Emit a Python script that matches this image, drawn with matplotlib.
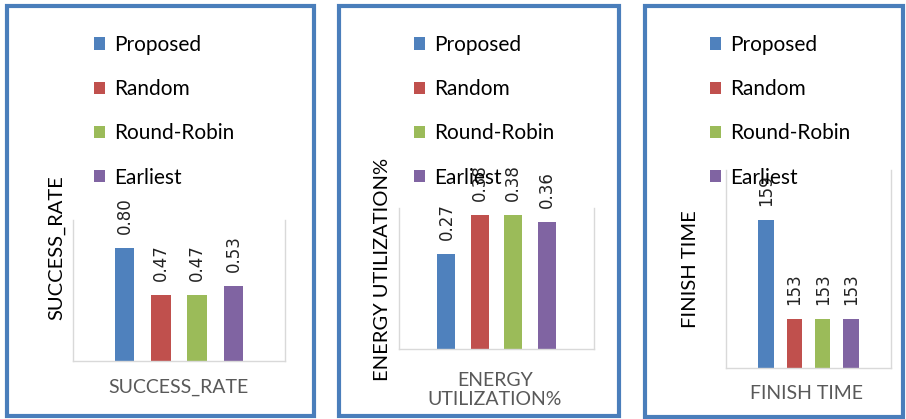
import matplotlib

matplotlib.use("Agg")
import matplotlib.pyplot as plt
from matplotlib.patches import Rectangle
import numpy as np

series = ["Proposed", "Random", "Round-Robin", "Earliest"]
colors = ["#4f81bd", "#c0504d", "#9bbb59", "#8064a2"]

success_rate = [0.80, 0.47, 0.47, 0.53]
energy_util = [0.27, 0.38, 0.38, 0.36]
finish_time = [159, 153, 153, 153]

W, H = 906, 419
plt.rcParams["font.family"] = ["Lato", "DejaVu Sans"]

fig = plt.figure(figsize=(W / 100, H / 100), dpi=100)


def px_rect(l, t, r, b):
    return [l / W, 1 - b / H, (r - l) / W, (b - t) / H]


def fig_pt(x, y):
    return (x / W, 1 - y / H)


# panel frames (left, top, right, bottom) in pixels
frames = [(7, 6, 314, 416), (339, 6, 619, 416), (645, 6, 903, 417)]
for l, t, r, b in frames:
    fig.add_artist(Rectangle((l / W, 1 - b / H), (r - l) / W, (b - t) / H,
                             transform=fig.transFigure, fill=False,
                             ec="#4a7ebb", lw=3))

panels = [
    dict(vals=success_rate, fmt="{:.2f}", rect=(73, 220, 285, 361), ylim=(0, 1.0),
         ylabel="SUCCESS_RATE", ylab_pos=(57, 248),
         xlabel="SUCCESS_RATE", xlab_pos=(178, 387), leg_x=94),
    dict(vals=energy_util, fmt="{:.2f}", rect=(399, 208, 594, 349), ylim=(0, 0.4),
         ylabel="ENERGY UTILIZATION%", ylab_pos=(382, 269),
         xlabel="ENERGY\nUTILIZATION%", xlab_pos=(495, 390), leg_x=414),
    dict(vals=finish_time, fmt="{:.0f}", rect=(726, 170, 891, 368), ylim=(150, 162),
         ylabel="FINISH TIME", ylab_pos=(690, 269),
         xlabel="FINISH TIME", xlab_pos=(807, 393), leg_x=710),
]

x = np.arange(len(series))
for p in panels:
    ax = fig.add_axes(px_rect(*p["rect"]))
    bars = ax.bar(x, p["vals"], width=0.54, color=colors, bottom=0,
                  label=series, zorder=2)
    ax.set_xlim(-1.42, 4.42)
    ax.set_ylim(*p["ylim"])
    ax.set_xticks([])
    ax.set_yticks([])
    for side in ["left", "bottom", "right"]:
        ax.spines[side].set_color("#d9d9d9")
        ax.spines[side].set_linewidth(1)
    ax.spines["top"].set_visible(False)

    for xi, v in zip(x, p["vals"]):
        ax.annotate(p["fmt"].format(v), (xi, v), xytext=(0, 10),
                    textcoords="offset points", rotation=90,
                    ha="center", va="bottom", fontsize=12,
                    family="DejaVu Sans", color="#222222")

    ax.set_ylabel(p["ylabel"], fontsize=14.5, color="black")
    ax.yaxis.set_label_coords(*fig_pt(*p["ylab_pos"]), transform=fig.transFigure)
    ax.set_xlabel(p["xlabel"], fontsize=14, color="#595959", linespacing=1.15)
    ax.xaxis.set_label_coords(*fig_pt(*p["xlab_pos"]), transform=fig.transFigure)
    ax.xaxis.label.set_va("center")
    ax.yaxis.label.set_va("center")

    ax.legend(bars, series, loc="upper left",
              bbox_to_anchor=fig_pt(p["leg_x"], 35), bbox_transform=fig.transFigure,
              frameon=False, borderpad=0, borderaxespad=0, fontsize=15,
              handlelength=0.55, handleheight=0.55, handletextpad=0.4,
              labelspacing=1.16)

fig.savefig("out.png", dpi=100)
